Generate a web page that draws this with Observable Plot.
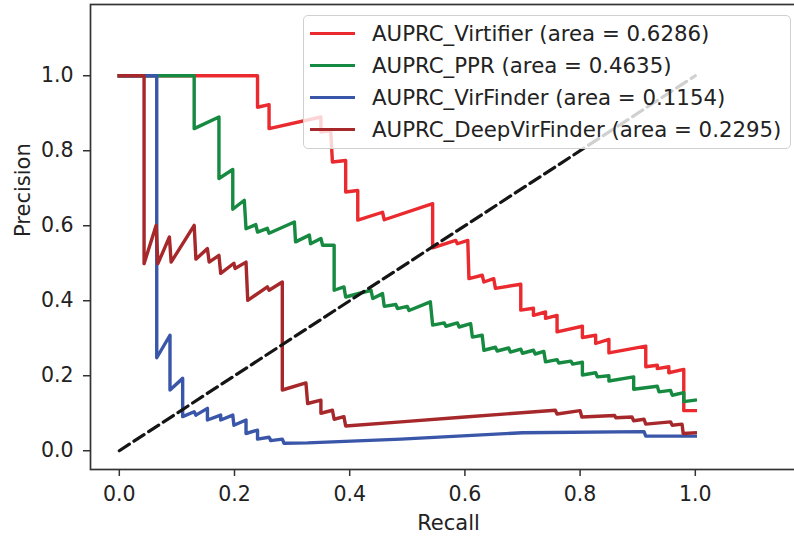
<!DOCTYPE html>
<html>
<head>
<meta charset="utf-8">
<script src="https://cdn.jsdelivr.net/npm/d3@7"></script>
<script src="https://cdn.jsdelivr.net/npm/@observablehq/plot@0.6"></script>
<style>
  body { margin: 0; background: #fff; }
  #wrap { position: relative; width: 794px; height: 536px; font-family: "DejaVu Sans", sans-serif; overflow: hidden; }
  #legend { position: absolute; left: 303px; top: 15px; width: 488px; height: 134px; box-sizing: border-box;
            background: rgba(255,255,255,0.8); border: 1px solid #d0d0d0; border-radius: 5px; }
  .row { position: absolute; left: 0; height: 32px; display: flex; align-items: center; }
  .swatch { width: 45px; height: 0; border-top: 3.5px solid; margin-left: 6px; margin-right: 17px; }
  .label { font-size: 21.3px; color: #222; white-space: pre; }
</style>
</head>
<body>
<div id="wrap"><div id="chart"></div><div id="legend"></div></div>
<script>
// ---- Series names and AUPRC values ----
const seriesNames = ["AUPRC_Virtifier", "AUPRC_PPR", "AUPRC_VirFinder", "AUPRC_DeepVirFinder"];
const seriesAreas = ["0.6286", "0.4635", "0.1154", "0.2295"];

// ---- Virtifier ----
const virtifierRecall = [0, 0.240, 0.240, 0.260, 0.260, 0.350, 0.350, 0.367, 0.370, 0.393, 0.393, 0.414, 0.414, 0.457, 0.460, 0.544, 0.544, 0.584, 0.587, 0.605, 0.607, 0.630, 0.633, 0.650, 0.653, 0.697, 0.697, 0.719, 0.719, 0.740, 0.740, 0.760, 0.760, 0.804, 0.804, 0.827, 0.827, 0.850, 0.850, 0.914, 0.914, 0.934, 0.934, 0.954, 0.954, 0.980, 0.980, 1.0];
const virtifierPrecision = [1.0, 1.0, 0.916, 0.923, 0.859, 0.890, 0.850, 0.854, 0.770, 0.774, 0.690, 0.694, 0.615, 0.636, 0.616, 0.659, 0.541, 0.561, 0.552, 0.561, 0.459, 0.468, 0.450, 0.459, 0.433, 0.444, 0.375, 0.380, 0.361, 0.370, 0.353, 0.361, 0.317, 0.332, 0.302, 0.308, 0.286, 0.297, 0.261, 0.279, 0.224, 0.228, 0.219, 0.224, 0.208, 0.217, 0.107, 0.107];

// ---- PPR ----
const pprRecall = [0, 0.130, 0.130, 0.173, 0.173, 0.197, 0.197, 0.217, 0.220, 0.237, 0.240, 0.257, 0.260, 0.304, 0.306, 0.330, 0.332, 0.350, 0.353, 0.373, 0.373, 0.390, 0.393, 0.437, 0.440, 0.457, 0.460, 0.480, 0.483, 0.500, 0.503, 0.540, 0.544, 0.564, 0.567, 0.587, 0.590, 0.610, 0.613, 0.630, 0.633, 0.653, 0.656, 0.676, 0.679, 0.697, 0.700, 0.719, 0.722, 0.737, 0.740, 0.760, 0.763, 0.784, 0.787, 0.804, 0.804, 0.827, 0.830, 0.850, 0.850, 0.893, 0.893, 0.934, 0.937, 0.957, 0.960, 0.980, 0.980, 1.0];
const pprPrecision = [1.0, 1.0, 0.859, 0.890, 0.726, 0.750, 0.644, 0.668, 0.592, 0.603, 0.583, 0.593, 0.580, 0.610, 0.557, 0.575, 0.552, 0.566, 0.548, 0.548, 0.428, 0.437, 0.410, 0.428, 0.406, 0.419, 0.385, 0.390, 0.379, 0.385, 0.374, 0.397, 0.335, 0.341, 0.332, 0.341, 0.330, 0.339, 0.303, 0.308, 0.268, 0.276, 0.266, 0.274, 0.263, 0.271, 0.260, 0.268, 0.258, 0.265, 0.237, 0.243, 0.234, 0.239, 0.231, 0.236, 0.202, 0.208, 0.197, 0.200, 0.186, 0.197, 0.164, 0.172, 0.157, 0.161, 0.148, 0.155, 0.131, 0.135];

// ---- VirFinder ----
const virfinderRecall = [0, 0.065, 0.065, 0.088, 0.088, 0.110, 0.110, 0.130, 0.133, 0.153, 0.153, 0.176, 0.176, 0.197, 0.199, 0.220, 0.220, 0.240, 0.240, 0.260, 0.263, 0.283, 0.286, 0.327, 0.489, 0.700, 0.911, 0.914, 1.0];
const virfinderPrecision = [1.0, 1.0, 0.248, 0.308, 0.162, 0.193, 0.091, 0.104, 0.095, 0.113, 0.082, 0.095, 0.082, 0.095, 0.068, 0.082, 0.046, 0.055, 0.031, 0.036, 0.027, 0.031, 0.020, 0.021, 0.031, 0.048, 0.051, 0.039, 0.039];

// ---- DeepVirFinder ----
const deepvirfinderRecall = [0, 0.043, 0.043, 0.064, 0.067, 0.087, 0.090, 0.130, 0.133, 0.153, 0.156, 0.173, 0.176, 0.199, 0.201, 0.220, 0.223, 0.257, 0.260, 0.283, 0.283, 0.324, 0.327, 0.350, 0.350, 0.370, 0.373, 0.390, 0.393, 0.489, 0.600, 0.757, 0.760, 0.800, 0.803, 0.860, 0.862, 0.890, 0.893, 0.911, 0.914, 0.957, 0.960, 0.977, 0.979, 1.0];
const deepvirfinderPrecision = [1.0, 1.0, 0.499, 0.601, 0.499, 0.570, 0.503, 0.601, 0.511, 0.539, 0.503, 0.521, 0.473, 0.500, 0.486, 0.503, 0.401, 0.437, 0.428, 0.450, 0.162, 0.181, 0.126, 0.135, 0.100, 0.108, 0.084, 0.091, 0.066, 0.077, 0.090, 0.108, 0.098, 0.107, 0.090, 0.094, 0.088, 0.090, 0.080, 0.084, 0.071, 0.077, 0.068, 0.071, 0.046, 0.048];

// ---- Chance diagonal and ticks ----
const chanceRecall = [0, 1];
const chancePrecision = [0, 1];
const xTicks = [0, 0.2, 0.4, 0.6, 0.8, 1.0];
const yTicks = [0, 0.2, 0.4, 0.6, 0.8, 1.0];
const xLabel = "Recall";
const yLabel = "Precision";

const seriesColors = ["#ea2a2e", "#168a40", "#3a56a8", "#a6282b"];

const recalls = [virtifierRecall, pprRecall, virfinderRecall, deepvirfinderRecall];
const precisions = [virtifierPrecision, pprPrecision, virfinderPrecision, deepvirfinderPrecision];
const rows = seriesNames.flatMap((name, i) =>
  recalls[i].map((r, j) => ({series: name, recall: r, precision: precisions[i][j]})));
const chance = chanceRecall.map((r, j) => ({recall: r, precision: chancePrecision[j]}));

const chart = Plot.plot({
  width: 794,
  height: 536,
  marginLeft: 90,
  marginRight: -16,
  marginTop: 4,
  marginBottom: 67,
  style: {fontFamily: "DejaVu Sans", fontSize: "20.5px", color: "#222", background: "white", overflow: "hidden"},
  x: {domain: [-0.05, 1.2]},
  y: {domain: [-0.05, 1.19]},
  color: {domain: seriesNames, range: seriesColors},
  marks: [
    Plot.line(rows, {x: "recall", y: "precision", z: "series", stroke: "series",
      strokeWidth: 3.4, strokeLinejoin: "round", strokeLinecap: "square"}),
    Plot.line(chance, {x: "recall", y: "precision", stroke: "#151515",
      strokeWidth: 3.2, strokeDasharray: "12,5.5"}),
    Plot.frame({stroke: "#333", strokeWidth: 1.7}),
    Plot.axisX({ticks: xTicks, tickSize: 7, tickPadding: 10, tickFormat: d3.format(".1f"),
      label: null, stroke: "#333", strokeWidth: 1.5}),
    Plot.axisY({ticks: yTicks, tickSize: 7, tickPadding: 10, tickFormat: d3.format(".1f"),
      label: null, stroke: "#333", strokeWidth: 1.5}),
    Plot.text([xLabel], {text: d => d, frameAnchor: "bottom", dy: 54, dx: -2,
      lineAnchor: "middle", fontSize: 21, fill: "#222"}),
    Plot.text([yLabel], {text: d => d, frameAnchor: "left", dx: -67, rotate: -90,
      lineAnchor: "middle", fontSize: 21, fill: "#222"})
  ]
});
document.getElementById("chart").appendChild(chart);

// ---- Legend (inside the axes, upper right) ----
const legend = document.getElementById("legend");
seriesNames.forEach((name, i) => {
  const row = document.createElement("div");
  row.className = "row";
  row.style.top = (1.5 + 32 * i) + "px";
  const sw = document.createElement("div");
  sw.className = "swatch";
  sw.style.borderTopColor = seriesColors[i];
  const lab = document.createElement("div");
  lab.className = "label";
  lab.textContent = `${name} (area = ${seriesAreas[i]})`;
  row.appendChild(sw);
  row.appendChild(lab);
  legend.appendChild(row);
});
</script>
</body>
</html>
